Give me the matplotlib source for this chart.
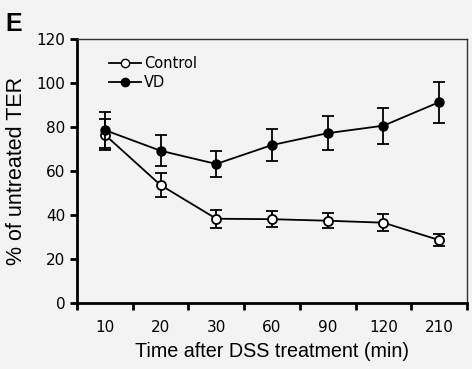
import numpy as np
import matplotlib.pyplot as plt
from matplotlib.lines import Line2D

times = ["10", "20", "30", "60", "90", "120", "210"]
control = [76.5, 53.6, 38.3, 38.1, 37.4, 36.5, 28.6]
control_err = [7.0, 5.5, 4.0, 3.7, 3.5, 3.8, 2.8]
vd = [78.6, 69.2, 63.2, 71.8, 77.2, 80.6, 91.3]
vd_err = [8.0, 7.0, 6.0, 7.3, 7.6, 8.1, 9.3]

bg = "#f3f3f3"
fig = plt.figure(figsize=(4.72, 3.69), dpi=100, facecolor=bg)
ax = fig.add_axes([77 / 472, 1 - 303 / 369, 390 / 472, 264 / 369], facecolor=bg)

x = np.arange(len(times))
ax.errorbar(x, control, yerr=control_err, color="black", lw=1.3, marker="o",
            ms=6.5, mfc="white", mec="black", mew=1.3, capsize=4, capthick=1.3,
            elinewidth=1.3, zorder=3)
ax.errorbar(x, vd, yerr=vd_err, color="black", lw=1.3, marker="o",
            ms=6.5, mfc="black", mec="black", capsize=4, capthick=1.3,
            elinewidth=1.3, zorder=4)

ax.set_xlim(-0.5, len(times) - 0.5)
ax.set_ylim(0, 120)
ax.set_yticks(range(0, 121, 20))
ax.set_xticks(x)
ax.set_xticklabels(times)
ax.set_xticks(np.arange(-0.5, len(times), 1), minor=True)
ax.tick_params(axis="x", which="major", length=0, labelsize=11, pad=12)
ax.tick_params(axis="x", which="minor", length=5, width=2, direction="out")
ax.tick_params(axis="y", length=5, width=2, labelsize=11)

for s in ["left", "bottom"]:
    ax.spines[s].set_linewidth(2)
for s in ["top", "right"]:
    ax.spines[s].set_linewidth(1)
    ax.spines[s].set_color("#333333")

ax.set_xlabel("Time after DSS treatment (min)", fontsize=14.2, labelpad=5,
              family="Liberation Sans")
ax.set_ylabel("% of untreated TER", fontsize=15.5, labelpad=7,
              family="Liberation Sans")

handles = [
    Line2D([], [], color="black", lw=1.3, marker="o", ms=6, mfc="white", mec="black"),
    Line2D([], [], color="black", lw=1.3, marker="o", ms=6, mfc="black", mec="black"),
]
ax.legend(handles, ["Control", "VD"], loc="upper left", bbox_to_anchor=(0.055, 0.975),
          frameon=False, fontsize=10.5, handlelength=2.2, handletextpad=0.2,
          labelspacing=0.3, borderaxespad=0.3)

fig.text(0.012, 0.915, "E", fontsize=18, fontweight="bold", family="Liberation Sans")

fig.savefig("out.png", dpi=100, facecolor=bg)
